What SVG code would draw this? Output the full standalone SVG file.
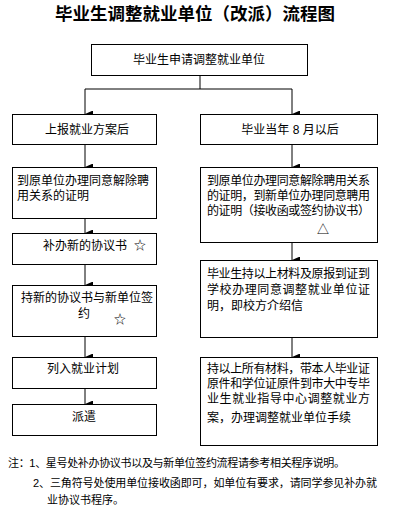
<svg xmlns="http://www.w3.org/2000/svg" width="395" height="521" viewBox="0 0 395 521">
<style>
text{font-family:"Liberation Sans","Noto Sans CJK SC",sans-serif;font-size:12px;fill:#000}
.t{font-size:17.5px;font-weight:bold}
.n{font-size:11px}
.c{text-anchor:middle}
rect{fill:#fff;stroke:#000;stroke-width:1}
.cn path,.cn line{stroke:#000;stroke-width:1;fill:none}
</style>
<defs>
<marker id="ah" markerWidth="7" markerHeight="8" refX="3.5" refY="8" orient="auto" markerUnits="userSpaceOnUse" viewBox="0 0 7 8">
<path d="M0,0 L7,0 L3.5,8 Z" fill="#000"/>
</marker>
</defs>
<text class="t c" x="195" y="20">毕业生调整就业单位（改派）流程图</text>
<g class="cn">
<path d="M200,75 V89 M85,89 H292"/>
<line x1="85" y1="89" x2="85" y2="114" marker-end="url(#ah)"/>
<line x1="292" y1="89" x2="292" y2="114" marker-end="url(#ah)"/>
<line x1="85" y1="144" x2="85" y2="167" marker-end="url(#ah)"/>
<line x1="85" y1="218" x2="85" y2="233" marker-end="url(#ah)"/>
<line x1="85" y1="264" x2="85" y2="285" marker-end="url(#ah)"/>
<line x1="85" y1="336" x2="85" y2="357" marker-end="url(#ah)"/>
<line x1="85" y1="388" x2="85" y2="404" marker-end="url(#ah)"/>
<line x1="292" y1="144" x2="292" y2="167" marker-end="url(#ah)"/>
<line x1="292" y1="242" x2="292" y2="260" marker-end="url(#ah)"/>
<line x1="292" y1="337" x2="292" y2="357" marker-end="url(#ah)"/>
</g>
<g id="n0"><rect x="91.5" y="44.5" width="216" height="31"/><text class="c" x="199" y="63.5">毕业生申请调整就业单位</text></g>
<g id="l1"><rect x="12.5" y="114.5" width="144" height="30"/><text x="45" y="133.5">上报就业方案后</text></g>
<g id="l2"><rect x="12.5" y="167.5" width="144" height="51"/><text><tspan x="17" y="184.5">到原单位办理同意解除聘</tspan><tspan x="17" y="199.5">用关系的证明</tspan></text></g>
<g id="l3"><rect x="12.5" y="233.5" width="144" height="31"/><text x="43" y="249.5">补办新的协议书</text><text x="134" y="249.5">☆</text></g>
<g id="l4"><rect x="12.5" y="285.5" width="144" height="51"/><text x="21" y="301.5">持新的协议书与新单位签</text><text x="78" y="317.5">约</text><text x="114" y="323.5">☆</text></g>
<g id="l5"><rect x="12.5" y="357.5" width="144" height="31"/><text x="47" y="372.5">列入就业计划</text></g>
<g id="l6"><rect x="12.5" y="404.5" width="144" height="31"/><text x="72" y="420.5">派遣</text></g>
<g id="r1"><rect x="200.5" y="114.5" width="177" height="30"/><text class="c" x="290" y="133.5">毕业当年 8 月以后</text></g>
<g id="r2"><rect x="200.5" y="167.5" width="177" height="75"/><text><tspan x="207" y="184.5" textLength="163">到原单位办理同意解除聘用关系</tspan><tspan x="207" y="199.5" textLength="163">的证明，到新单位办理同意聘用</tspan><tspan x="207" y="214.5" textLength="163">的证明（接收函或签约协议书）</tspan></text><text x="317" y="233.5">△</text></g>
<g id="r3"><rect x="200.5" y="260.5" width="177" height="77"/><text><tspan x="207" y="277.5" textLength="163">毕业生持以上材料及原报到证到</tspan><tspan x="207" y="293.5" textLength="163">学校办理同意调整就业单位证</tspan><tspan x="207" y="309.5">明，即校方介绍信</tspan></text></g>
<g id="r4"><rect x="200.5" y="357.5" width="177" height="88"/><text><tspan x="207" y="372.5" textLength="163">持以上所有材料，带本人毕业证</tspan><tspan x="207" y="387.5" textLength="163">原件和学位证原件到市大中专毕</tspan><tspan x="207" y="402.5" textLength="163">业生就业指导中心调整就业方</tspan><tspan x="207" y="421.5">案，办理调整就业单位手续</tspan></text></g>
<text class="n" x="8" y="467" textLength="337">注：1、星号处补办协议书以及与新单位签约流程请参考相关程序说明。</text>
<text class="n" x="33" y="487" textLength="344">2、三角符号处使用单位接收函即可，如单位有要求，请同学参见补办就</text>
<text class="n" x="47" y="504">业协议书程序。</text>
</svg>
